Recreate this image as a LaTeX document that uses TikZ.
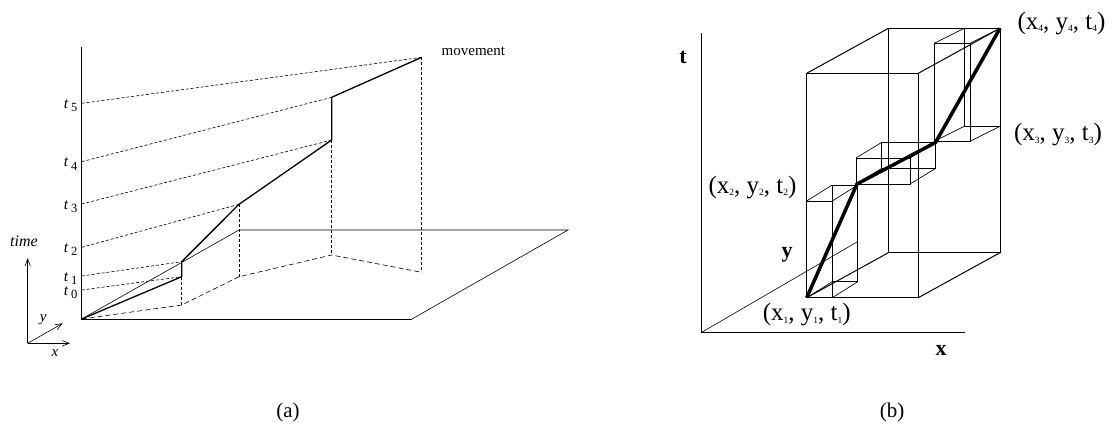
\documentclass[tikz,border=0pt]{standalone}
\usepackage{fontspec}
\setmainfont{Liberation Serif}
\usetikzlibrary{arrows.meta}
\newcommand\sbs[1]{\raisebox{-2.5pt}{\fontsize{9.5}{9.5}\selectfont #1}}
\newcommand\ptlab[1]{(x\sbs{#1}, y\sbs{#1}, t\sbs{#1})}
\newcommand\tlab[1]{\textit{t}\,\raisebox{-3.5pt}{\fontsize{12.5}{12.5}\selectfont #1}}
\newcommand\wbox[6]{%
  \draw[#1] (#2,#3) rectangle (#4,#5);
  \draw[#1,shift={(#6)}] (#2,#3) rectangle (#4,#5);
  \draw[#1] (#2,#3) -- ++(#6) (#4,#3) -- ++(#6) (#4,#5) -- ++(#6) (#2,#5) -- ++(#6);
}
\begin{document}
\begin{tikzpicture}[x=1pt,y=-1pt,
  axisline/.style={line width=0.9pt},
  planeline/.style={line width=0.6pt},
  tdash/.style={line width=0.6pt,dash pattern=on 3pt off 2pt},
  gdash/.style={line width=0.6pt,dash pattern=on 5pt off 3pt},
  mpath/.style={line width=1.3pt,line join=round},
  ind/.style={line width=0.6pt,-{Straight Barb[length=7pt,width=5.5pt]}},
  tl/.style={anchor=base east,inner sep=0pt,font=\fontsize{15.5}{16}\selectfont},
  bigbox/.style={line width=1pt},
  smallbox/.style={line width=0.65pt},
  bpath/.style={line width=3.5pt,line join=round},
  plab/.style={font=\fontsize{25}{26}\selectfont,inner sep=0pt},
  blab/.style={font=\fontsize{22}{24}\selectfont\bfseries,inner sep=0pt},
  captext/.style={font=\fontsize{21}{22}\selectfont,inner sep=0pt}
]
\useasboundingbox (0,0) rectangle (1112,426);

% ---------------- panel (a) ----------------
\coordinate (O) at (81.7,319);
\coordinate (Atop) at (81.7,47);
\coordinate (R) at (412,319);
\coordinate (RB) at (568,230);
\coordinate (LB) at (239,230);
\draw[axisline] (Atop) -- (O) -- (R);
\draw[planeline] (R) -- (RB) -- (LB) -- (O);

\coordinate (T0) at (81.7,290);
\coordinate (T1) at (81.7,276);
\coordinate (T2) at (81.7,247.3);
\coordinate (T3) at (81.7,204);
\coordinate (T4) at (81.7,161.7);
\coordinate (T5) at (81.7,103.3);

\coordinate (P1b) at (181.7,276.7);
\coordinate (P1t) at (181.7,261.7);
\coordinate (P2) at (239,204.3);
\coordinate (P3b) at (331.7,140);
\coordinate (P3t) at (331.7,97.3);
\coordinate (P4) at (421.7,57.3);

\coordinate (G1) at (181.7,305);
\coordinate (G2) at (239,276.7);
\coordinate (G3) at (331.7,255);
\coordinate (G4) at (421.7,272.3);

\draw[tdash] (T0) -- (P1b);
\draw[tdash] (T1) -- (P1t);
\draw[tdash] (T2) -- (P2);
\draw[tdash] (T3) -- (P3b);
\draw[tdash] (T4) -- (P3t);
\draw[tdash] (T5) -- (P4);

\draw[tdash] (P1b) -- (G1);
\draw[tdash] (P2) -- (G2);
\draw[tdash] (P3b) -- (G3);
\draw[tdash] (P4) -- (G4);
\draw[gdash] (O) -- (G1) -- (G2) -- (G3) -- (G4);

\draw[mpath] (O) -- (P1b) -- (P1t) -- (P2) -- (P3b) -- (P3t) -- (P4);

\node[tl] (l0) at (77.5,295) {\tlab{0}};
\node[tl] (l1) at (77.5,281) {\tlab{1}};
\node[tl] (l2) at (77.5,252.3) {\tlab{2}};
\node[tl] (l3) at (77.5,209) {\tlab{3}};
\node[tl] (l4) at (77.5,166.7) {\tlab{4}};
\node[tl] (l5) at (77.5,108.3) {\tlab{5}};

\node[anchor=base,inner sep=0pt,font=\fontsize{15}{16}\selectfont] (mv) at (473.4,55) {movement};

% axis indicator
\coordinate (Q) at (27.7,343.3);
\coordinate (Qt) at (27.7,258.3);
\coordinate (Qx) at (70,343.3);
\coordinate (Qy) at (62.7,323.3);
\draw[ind] (Q) -- (Qt);
\draw[ind] (Q) -- (Qx);
\draw[ind] (Q) -- (Qy);
\node[inner sep=0pt,font=\fontsize{16}{16}\selectfont\itshape] (timel) at (24,241) {time};
\node[inner sep=0pt,font=\fontsize{15}{16}\selectfont\itshape] (yl) at (43.3,319.3) {y};
\node[inner sep=0pt,font=\fontsize{15}{16}\selectfont\itshape] (xl) at (55,353) {x};

\node[captext] (capa) at (288,412) {(a)};

% ---------------- panel (b) ----------------
\coordinate (Ob) at (701.7,332.3);
\coordinate (Tt) at (701.7,33.3);
\coordinate (Xe) at (965,332.3);
\coordinate (Ye) at (857.5,241.7);
\draw[axisline] (Tt) -- (Ob) -- (Xe);
\draw[planeline] (Ob) -- (Ye);

\wbox{bigbox}{806.7}{73.3}{918.3}{297.7}{81.7,-45}
\wbox{smallbox}{806.7}{201}{832.3}{297.7}{25.5,-16}
\wbox{smallbox}{856}{158}{910}{184}{25.5,-15.5}
\wbox{smallbox}{934.3}{43.3}{970}{141.3}{30,-15}

\coordinate (Q1) at (806.7,297.7);
\coordinate (Q2) at (857,184);
\coordinate (Q3) at (935.5,142.5);
\coordinate (Q4) at (1000,28.3);
\draw[bpath] (Q1) -- (Q2) -- (Q3) -- (Q4);

\node[plab] (n1) at (806.7,315) {\ptlab{1}};
\node[plab] (n2) at (752.5,187.5) {\ptlab{2}};
\node[plab] (n3) at (1058,135) {\ptlab{3}};
\node[plab] (n4) at (1061.5,23.3) {\ptlab{4}};

\node[blab] (tb) at (683,57.5) {t};
\node[blab] (yb) at (787,255) {y};
\node[blab] (xb) at (941,350) {x};

\node[captext] (capb) at (892,412) {(b)};
\end{tikzpicture}
\end{document}
